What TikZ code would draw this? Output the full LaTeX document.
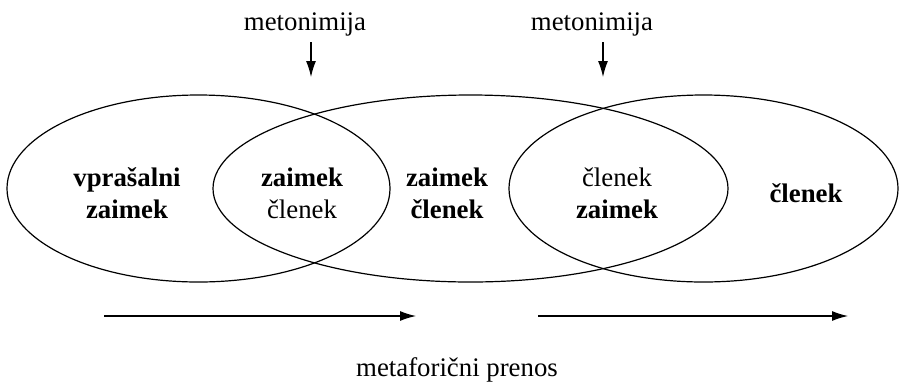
\documentclass[tikz,border=0pt]{standalone}
\usepackage{fontspec}
\setmainfont{Liberation Serif}
\usetikzlibrary{arrows.meta,shapes.geometric,positioning}

\tikzset{
  set/.style={draw,ellipse,line width=.6pt,inner sep=0pt,minimum height=93.5pt},
  lbl/.style={font=\fontsize{13.4}{16}\selectfont,align=center},
  arr/.style={-{Latex[length=8pt,width=5pt]},line width=.6pt}
}

\begin{document}
\begin{tikzpicture}[x=.5pt,y=-.5pt]
\useasboundingbox (0,0) rectangle (899,381);
% the three sets
\node[set,minimum width=191.5pt] (left) at (198.5,188.5){};
\node[set,minimum width=257.5pt] (mid) at (470.5,188.5){};
\node[set,minimum width=194.5pt] (right) at (703.5,188.5){};
% texts in the sets
\node[lbl] (vz) at (127,193){\textbf{vprašalni}\\\textbf{zaimek}};
\node[lbl] (zc) at (302,193){\textbf{zaimek}\\členek};
\node[lbl] (zcb) at (447,193){\textbf{zaimek}\\\textbf{členek}};
\node[lbl] (cz) at (617,193){členek\\\textbf{zaimek}};
\node[lbl,font=\fontsize{13.4}{16}\selectfont\bfseries] (cl) at (806,193){členek};
% metonymy
\node[lbl,anchor=base] (met1) at (305,30){metonimija};
\node[lbl,anchor=base] (met2) at (592,30){metonimija};
\coordinate (m1a) at (311,42);\coordinate (m1b) at (311,77);
\coordinate (m2a) at (603,42);\coordinate (m2b) at (603,77);
\draw[arr] (m1a)--(m1b);\draw[arr] (m2a)--(m2b);
% metaphor
\coordinate (p1a) at (104,316);\coordinate (p1b) at (416,316);
\coordinate (p2a) at (538,316);\coordinate (p2b) at (848,316);
\draw[arr] (p1a)--(p1b);\draw[arr] (p2a)--(p2b);
\node[lbl,anchor=base] (mp) at (457,376){metaforični prenos};
\end{tikzpicture}
\end{document}
